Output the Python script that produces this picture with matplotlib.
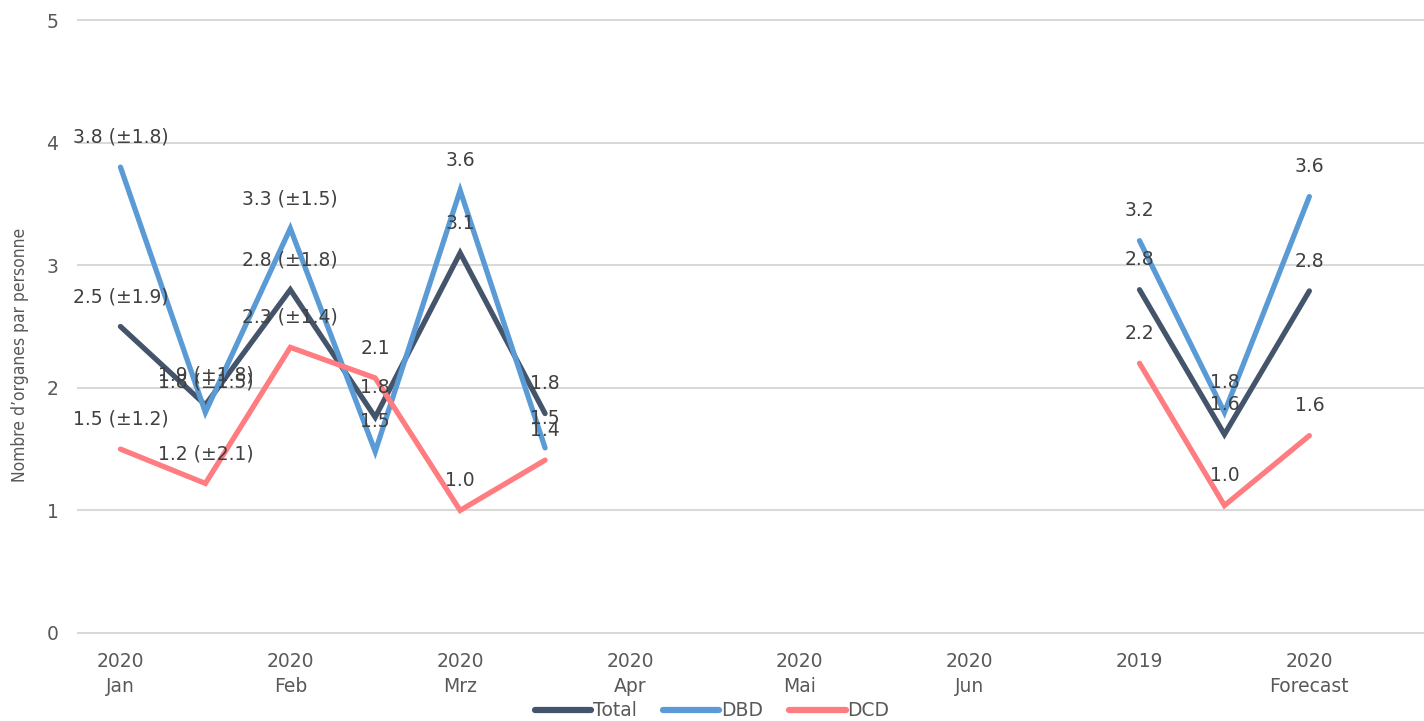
import numpy as np
import matplotlib
matplotlib.use("Agg")
import matplotlib.pyplot as plt
from matplotlib.lines import Line2D

tick_labels = ["2020\nJan", "", "2020\nFeb", "", "2020\nMrz", "", "2020\nApr", "",
               "2020\nMai", "", "2020\nJun", "", "2019", "", "2020\nForecast"]
nan = np.nan
total = [2.5, 1.86, 2.8, 1.76, 3.1, 1.79, nan, nan, nan, nan, nan, nan, 2.8, 1.62, 2.79]
dbd   = [3.8, 1.8, 3.3, 1.48, 3.61, 1.51, nan, nan, nan, nan, nan, nan, 3.2, 1.8, 3.56]
dcd   = [1.5, 1.22, 2.33, 2.08, 1.0, 1.41, nan, nan, nan, nan, nan, nan, 2.2, 1.04, 1.61]
total_sd = [1.9, 1.8, 1.8]
dbd_sd = [1.8, 1.5, 1.5]
dcd_sd = [1.2, 2.1, 1.4]

series = [("Total", total, total_sd, "#44546A"),
          ("DBD", dbd, dbd_sd, "#5B9BD5"),
          ("DCD", dcd, dcd_sd, "#FF7C80")]

fig = plt.figure(figsize=(14.24, 7.21), dpi=100)
ax = fig.add_axes([78/1424, 1-633/721, 1-78/1424, (633-20)/721])
x = np.arange(len(tick_labels))

for name, vals, sds, col in series:
    ax.plot(x, vals, color=col, lw=3.8, solid_capstyle="round", solid_joinstyle="miter", zorder=3)

for name, vals, sds, col in series:
    for i, v in enumerate(vals):
        if np.isnan(v):
            continue
        s = f"{v:.1f}"
        if i < len(sds):
            s += f" (±{sds[i]:.1f})"
        ax.annotate(s, (x[i], v), xytext=(0, 21.5), textcoords="offset points",
                    ha="center", va="center", fontsize=13.5, color="#404040", zorder=4)

ax.set_ylim(0, 5)
ax.set_xlim(-0.5, 15.35)
ax.set_yticks(range(6))
ax.set_xticks(x)
ax.set_xticklabels(tick_labels, fontsize=13.5, color="#595959", linespacing=1.35)
ax.tick_params(axis="y", labelsize=13.5, labelcolor="#595959", length=0, pad=14)
ax.tick_params(axis="x", length=0, pad=14)
ax.grid(axis="y", color="#D9D9D9", lw=1.5)
for gl in ax.get_ygridlines():
    gl.set_clip_on(False)
ax.set_axisbelow(True)
for sp in ax.spines.values():
    sp.set_visible(False)

fig.text(20/1424, 1-355/721, "Nombre d’organes par personne", rotation=90,
         ha="center", va="center", fontsize=12.5, color="#595959", fontstretch="condensed")

handles = [Line2D([0], [0], color=c, lw=4.5, solid_capstyle="round") for _, _, _, c in series]
fig.legend(handles, [s[0] for s in series], loc="center", bbox_to_anchor=(712/1424, 1-711/721),
           ncol=3, frameon=False, fontsize=13.5, labelcolor="#595959",
           handlelength=3.0, handletextpad=0.1, columnspacing=1.4)

fig.savefig("out.png", dpi=100)
